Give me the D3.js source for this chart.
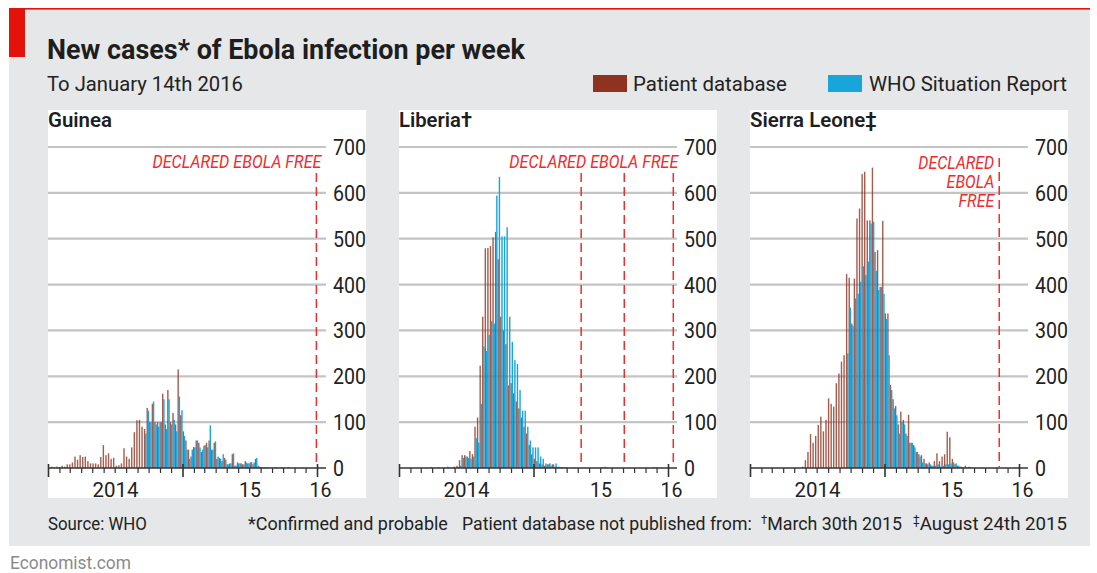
<!DOCTYPE html>
<html>
<head>
<meta charset="utf-8">
<script src="https://cdn.jsdelivr.net/npm/d3@7"></script>
<style>
  body { margin: 0; background: #ffffff; }
  text { font-family: Roboto, "Open Sans", sans-serif; }
</style>
</head>
<body>
<script>
// ---------------- DATA ----------------
// weekly new cases, index 0 = week beginning 1 Jan 2014
const countries = ["Guinea", "Liberia", "Sierra Leone"];
const countryMarks = ["", "\u2020", "\u2021"];

const guineaPatientStart = 0;
const guineaPatient = [0,3,2,3,2,5,3,8,8,12, 25,18,28,24,25,15,10,10,10,8,
  24,50,28,32,20,22,5,6,10,43, 25,20,45,78,104,105,90,85,131,100,
  140,100,100,100,162,95,170,100,120,95, 215,115,80,60,40,25,46,60,55,35,
  48,55,60,40,55,20,22,15,22,8, 10,30,5,12,10,8,15,10,12,8,
  20,5,2,1,0,1,0,0,1,0, 1,0,0,1,0,0,0,0,0,0, 0,0,0,0];
const guineaWhoStart = 37;
const guineaWho = [75,125,100,145,95,90,100,150,85,150, 95,105,80,156,126,70,40,20,40,45,
  60,45,40,50,45,93,40,58,25,20, 30,18,8,10,32,5,10,10,8,12,
  10,13,12,22,3,1,2,1,0,1, 2,1,0,2,0,1,0,0,1,0, 0,1,0,0,0];

const liberiaPatientStart = 12;
const liberiaPatient = [2,0,0,1,0,0,0,0,1,3, 5,17,28,28,25,37,30,90,110,223,
  330,479,480,484,503,515,455,330,300,270, 180,185,163,145,130,110,90,75,50,30,
  20,15,10,8,5,8,10,8,3,2, 1,2,0];
const liberiaWhoStart = 18;
const liberiaWho = [3,0,0,0,2,5,22,25,22,20, 25,65,55,140,265,255,290,320,315,594,
  635,505,505,525,330,275,235,227,170,125, 125,90,60,45,45,45,25,20,10,8,
  5,8,10,3,2,1,2,0,0,1, 0,0,0,0,0,0,0,0,0,0, 2,3,1,0,0,0,0,0,0,0,
  0,0,0,0,0,0,0,0,0,0, 2,1,0,0,0];

const sierraPatientStart = 20;
const sierraPatient = [3,17,35,74,55,70,94,112,80,105, 152,140,134,185,206,232,246,423,415,315,
  413,544,566,641,646,540,540,655,471,475, 395,539,337,337,181,150,135,95,123,105,
  75,116,55,50,35,30,28,20,10,12, 5,15,32,15,25,30,79,67,20,8, 5,3,0,5,0,2];
const sierraWhoStart = 37;
const sierraWho = [250,350,310,370,380,406,440,421,450,533, 537,430,388,395,380,325,246,170,130,115,
  75,100,95,70,55,55,45,35,25,12, 10,8,8,5,5,8,3,5,8,8,
  10,12,10,5,3,2,1,3,0,1, 0,0,1,0,0,0,0,0];

const yTicks = [0,100,200,300,400,500,600,700];
const yearLabels = ["2014", "15", "16"];
const freeDates = [
  ["2015-12-29"],
  ["2015-05-09", "2015-09-03", "2016-01-14"],
  ["2015-11-07"]
];
const legendLabels = ["Patient database", "WHO Situation Report"];
const colors = { patient: "#8e3320", who: "#17a5dc", red: "#e3120b", flag: "#ef2b2d" };

// ---------------- DRAW ----------------
const W = 1097, H = 573;
const svg = d3.select("body").append("svg").attr("width", W).attr("height", H);

function fitText(sel, width) {
  const n = sel.node().getComputedTextLength();
  if (n > 0) sel.attr("transform", `scale(${width / n},1)`);
  return sel;
}
function placeText(parent, x, y, str, opts, width) {
  const g = parent.append("g").attr("transform", `translate(${x},${y})`);
  const t = g.append("text").text(str);
  for (const k in opts) t.attr(k, opts[k]);
  if (width) fitText(t, width);
  return t;
}

svg.append("rect").attr("x", 9).attr("y", 8).attr("width", 1081).attr("height", 538).attr("fill", "#e6e7e9");
svg.append("rect").attr("x", 9).attr("y", 8).attr("width", 1081).attr("height", 1.6).attr("fill", colors.red);
svg.append("rect").attr("x", 9).attr("y", 8).attr("width", 16).attr("height", 49).attr("fill", colors.red);

placeText(svg, 47, 59, "New cases* of Ebola infection per week",
  { "font-size": 28, "font-weight": 700, fill: "#1e1e1e" }, 478);
placeText(svg, 47, 91, "To January 14th 2016", { "font-size": 21, fill: "#222" }, 196);

// legend
const leg = [
  { x: 593, w: 34, tx: 633, tw: 154, c: colors.patient, label: legendLabels[0] },
  { x: 828, w: 34, tx: 869, tw: 198, c: colors.who, label: legendLabels[1] }
];
leg.forEach(l => {
  svg.append("rect").attr("x", l.x).attr("y", 75).attr("width", l.w).attr("height", 17).attr("fill", l.c);
  placeText(svg, l.tx, 91, l.label, { "font-size": 21, fill: "#222" }, l.tw);
});

const panelX = [48, 399, 750];
const titleW = [64, 73, 127];
const yScale = d3.scaleLinear().domain([0, 700]).range([468, 147]);
const series = [
  [guineaPatient, guineaPatientStart, guineaWho, guineaWhoStart],
  [liberiaPatient, liberiaPatientStart, liberiaWho, liberiaWhoStart],
  [sierraPatient, sierraPatientStart, sierraWho, sierraWhoStart]
];
const t0 = new Date(2014, 0, 1);
const parse = d3.timeParse("%Y-%m-%d");

countries.forEach((name, i) => {
  const px = panelX[i];
  const g = svg.append("g").attr("transform", `translate(${px},0)`);
  g.append("rect").attr("x", 0).attr("y", 110).attr("width", 318).attr("height", 388).attr("fill", "#fff");

  const x = d3.scaleTime().domain([t0, new Date(2016, 0, 1)]).range([0.5, 269.5]);
  const axisEnd = x(new Date(2016, 0, 24));

  // title
  placeText(g, 0, 127, name + countryMarks[i], { "font-size": 21, "font-weight": 600, fill: "#1e1e1e" }, titleW[i]);

  // gridlines
  g.selectAll(".grid").data(yTicks.filter(v => v > 0)).enter().append("line")
    .attr("x1", 0).attr("x2", axisEnd).attr("y1", d => yScale(d)).attr("y2", d => yScale(d))
    .attr("stroke", "#c4c4c4").attr("stroke-width", 2.2);

  // y labels
  yTicks.forEach(v => {
    placeText(g, 285, yScale(v) + 8, String(v), { "font-size": 22, fill: "#222" },
      v === 0 ? 11 : 33);
  });

  // bars
  const [pv, ps, wv, ws] = series[i];
  const wk = k => d3.timeDay.offset(t0, 7 * k);
  g.selectAll(".bp").data(pv).enter().append("rect")
    .attr("x", (d, k) => x(wk(k + ps)))
    .attr("width", 1.4)
    .attr("y", d => yScale(d))
    .attr("height", d => yScale(0) - yScale(d))
    .attr("fill", colors.patient).attr("fill-opacity", 0.8);
  g.selectAll(".bw").data(wv).enter().append("rect")
    .attr("x", (d, k) => x(wk(k + ws)) + 1.2)
    .attr("width", 1.4)
    .attr("y", d => yScale(d))
    .attr("height", d => yScale(0) - yScale(d))
    .attr("fill", colors.who);

  // x axis
  g.append("line").attr("x1", 0).attr("x2", axisEnd).attr("y1", 468).attr("y2", 468)
    .attr("stroke", "#333").attr("stroke-width", 1.4);
  const months = d3.timeMonth.range(t0, new Date(2016, 0, 25));
  g.selectAll(".tick").data(months).enter().append("line")
    .attr("x1", d => x(d)).attr("x2", d => x(d))
    .attr("y1", d => d.getMonth() === 0 ? 464 : 468)
    .attr("y2", d => d.getMonth() === 0 ? 477 : 473)
    .attr("stroke", "#333").attr("stroke-width", d => d.getMonth() === 0 ? 1.6 : 1.2);
  const yearPos = [x(new Date(2014, 6, 2)), x(new Date(2015, 6, 2)), x(new Date(2016, 0, 1)) + 3];
  const yearW = [46, 22, 22];
  yearLabels.forEach((lab, j) => {
    placeText(g, yearPos[j], 497, lab, { "font-size": 21, fill: "#222", "text-anchor": "middle" }, yearW[j]);
  });

  // declared free lines
  const fd = freeDates[i].map(parse);
  const topY = i === 2 ? 158 : 173;
  fd.forEach(d => {
    g.append("line").attr("x1", x(d)).attr("x2", x(d)).attr("y1", topY).attr("y2", 468)
      .attr("stroke", colors.flag).attr("stroke-width", 1.5).attr("stroke-dasharray", "9,5");
  });
  const lastX = x(fd[fd.length - 1]);
  const fopts = { "font-size": 18, "font-style": "italic", fill: colors.flag, "text-anchor": "end" };
  if (i < 2) {
    placeText(g, lastX + 5, 168, "DECLARED EBOLA FREE", fopts, 169);
  } else {
    const t1 = placeText(g, lastX - 5, 169, "DECLARED", fopts, 76);
    const k = 76 / t1.node().getComputedTextLength();
    placeText(g, lastX - 5, 188, "EBOLA", fopts).attr("transform", `scale(${k},1)`);
    placeText(g, lastX - 5, 207, "FREE", fopts).attr("transform", `scale(${k},1)`);
  }
});

// footer
const fopt = { "font-size": 19, fill: "#222" };
placeText(svg, 48, 530, "Source: WHO", fopt, 99);
placeText(svg, 248, 530, "*Confirmed and probable", fopt, 200);
placeText(svg, 462, 530, "Patient database not published from:", fopt, 290);
function daggerText(x, mark, rest, width) {
  const g = svg.append("g").attr("transform", `translate(${x},530)`);
  const t = g.append("text").attr("font-size", 19).attr("fill", "#222");
  t.append("tspan").attr("font-size", 12).attr("dy", -6).text(mark);
  t.append("tspan").attr("dy", 6).text(rest);
  fitText(t, width);
}
daggerText(761, "\u2020", "March 30th 2015", 141);
daggerText(913, "\u2021", "August 24th 2015", 154);
placeText(svg, 10, 569, "Economist.com", { "font-size": 19, fill: "#8a8a8a" }, 121);
</script>
</body>
</html>
